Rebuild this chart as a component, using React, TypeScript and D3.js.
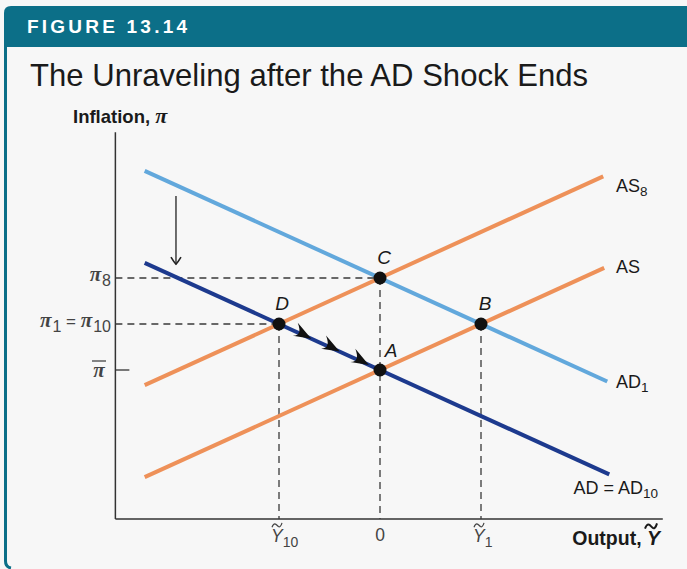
import React from "react";
import * as d3 from "d3";

// ---- data (economic units: output gap Ỹ, inflation π relative to π̄) ----
const curveIds = ["AD1", "AD10", "AS8", "AS"];
const ad1Pts: [number, number][] = [[-2.33, 4.33], [2.25, -0.25]];
const ad10Pts: [number, number][] = [[-2.33, 2.33], [2.27, -2.27]];
const as8Pts: [number, number][] = [[-2.33, -0.33], [2.21, 4.21]];
const asPts: [number, number][] = [[-2.33, -2.33], [2.22, 2.22]];
const pointNames = ["A", "B", "C", "D"];
const pointX = [0, 1, 0, -1];
const pointY = [0, 1, 2, 1];
const flowArrowX = [-0.68, -0.4, -0.11];
const xTickVals = [-1, 0, 1];
const xTickSubs = ["10", "", "1"];
const yTickVals = [2, 1, 0];
const xExtent = [-2.62, 2.8];
const yExtent = [-3.24, 5.17];
const shockArrow = { x: -2.02, from: 3.78, to: 2.3 };

const W = 687;
const H = 569;
const TEAL = "#0c6f88";
const FONT = "'Liberation Sans', Arial, Helvetica, sans-serif";
const SERIF = "'Liberation Serif', 'Times New Roman', serif";

function Tilde({ cx, cy, w, sw = 1.2 }: { cx: number; cy: number; w: number; sw?: number }) {
  const h = w * 0.22;
  return (
    <path
      d={`M${cx - w / 2},${cy + h} C${cx - w / 4},${cy - h * 2} ${cx},${cy + h * 0.3} ${cx + w / 8},${cy + h * 0.6} C${
        cx + w / 4
      },${cy + h * 1.2} ${cx + w * 0.4},${cy + h * 0.6} ${cx + w / 2},${cy - h}`}
      fill="none"
      stroke="currentColor"
      strokeWidth={sw}
    />
  );
}

export default function App() {
  const x = d3.scaleLinear().domain([-1, 1]).range([279, 481]);
  const y = d3.scaleLinear().domain([0, 1]).range([370, 324]);
  const line = d3
    .line<[number, number]>()
    .x((d) => x(d[0]))
    .y((d) => y(d[1]));

  const x0 = x(xExtent[0]);
  const x1 = x(xExtent[1]);
  const yb = y(yExtent[0]);
  const yt = y(yExtent[1]);

  const curves = [
    { id: curveIds[0], pts: ad1Pts, color: "#62a8dc" },
    { id: curveIds[1], pts: ad10Pts, color: "#1d3a8e" },
    { id: curveIds[2], pts: as8Pts, color: "#ee9159" },
    { id: curveIds[3], pts: asPts, color: "#ee9159" },
  ];

  const dash = "7,5";
  const dashColor = "#3a3a3a";

  const angle =
    (Math.atan2(y(ad10Pts[1][1]) - y(ad10Pts[0][1]), x(ad10Pts[1][0]) - x(ad10Pts[0][0])) * 180) /
    Math.PI;

  const pt = (name: string) => {
    const i = pointNames.indexOf(name);
    return [x(pointX[i]), y(pointY[i])];
  };
  const [Ax, Ay] = pt("A");
  const [Bx, By] = pt("B");
  const [Cx, Cy] = pt("C");
  const [Dx, Dy] = pt("D");

  const sub = { fontSize: 13.5 };
  const sx = x(shockArrow.x);
  const sy = y(shockArrow.to);

  return (
    <svg
      width={W}
      height={H}
      style={{ position: "absolute", left: 0, top: 0, display: "block" }}
      xmlns="http://www.w3.org/2000/svg"
    >
      <rect x={0} y={0} width={W} height={H} fill="#f7f7f7" />
      {/* header band */}
      <path d={`M4,47 L4,13 Q4,6 11,6 L${W},6 L${W},47 Z`} fill={TEAL} />
      <path d={`M5.5,47 L5.5,561 Q5.5,567 11,568`} fill="none" stroke={TEAL} strokeWidth={3} />
      <text
        x={27}
        y={33}
        fill="#ffffff"
        fontFamily={FONT}
        fontWeight="bold"
        fontSize={19}
        textLength={160}
        lengthAdjust="spacing"
      >
        FIGURE 13.14
      </text>
      <text x={30} y={86} fill="#1a1a1a" fontFamily={FONT} fontSize={30.5} textLength={558} lengthAdjust="spacingAndGlyphs">
        The Unraveling after the AD Shock Ends
      </text>

      {/* axes */}
      <line x1={x0} y1={yt} x2={x0} y2={yb} stroke="#333" strokeWidth={1.5} />
      <line x1={x0} y1={yb} x2={x1} y2={yb} stroke="#333" strokeWidth={1.5} />
      <text x={73} y={123} fontFamily={FONT} fontWeight="bold" fontSize={18.5} fill="#1a1a1a">
        Inflation,{" "}
        <tspan fontFamily={SERIF} fontStyle="italic" fontSize={22}>
          π
        </tspan>
      </text>
      <g color="#1a1a1a">
        <text x={660} y={545} textAnchor="end" fontFamily={FONT} fontWeight="bold" fontSize={19.5} fill="#1a1a1a">
          Output, <tspan fontStyle="italic">Y</tspan>
        </text>
        <Tilde cx={651} cy={526} w={12} sw={2} />
      </g>

      {/* pi-bar tick */}
      <line x1={x0} y1={y(0)} x2={x0 + 14} y2={y(0)} stroke="#333" strokeWidth={1.3} />

      {/* dashed guides */}
      <line x1={x0} y1={Cy} x2={Cx} y2={Cy} stroke={dashColor} strokeWidth={1.3} strokeDasharray={dash} />
      <line x1={x0} y1={Dy} x2={Dx} y2={Dy} stroke={dashColor} strokeWidth={1.3} strokeDasharray={dash} />
      {[Dx, Cx, Bx].map((px, i) => (
        <line
          key={i}
          x1={px}
          y1={[Dy, Cy, By][i]}
          x2={px}
          y2={yb}
          stroke={dashColor}
          strokeWidth={1.3}
          strokeDasharray={dash}
        />
      ))}

      {/* curves */}
      {curves.map((c) => (
        <path key={c.id} d={line(c.pts) || ""} fill="none" stroke={c.color} strokeWidth={4} />
      ))}

      {/* shock arrow */}
      <line x1={sx} y1={y(shockArrow.from)} x2={sx} y2={sy} stroke="#222" strokeWidth={1.3} />
      <path
        d={`M${sx - 5},${sy - 7} Q${sx - 2},${sy - 2} ${sx},${sy} Q${sx + 2},${sy - 2} ${sx + 5},${sy - 7}`}
        fill="none"
        stroke="#222"
        strokeWidth={1.6}
      />

      {/* flow arrowheads along AD10 */}
      {flowArrowX.map((v, i) => (
        <path
          key={i}
          transform={`translate(${x(v)},${y(-v)}) rotate(${angle})`}
          d="M0,0 L-19,-9 Q-13,-3 -14,0 Q-13,2 -18,5 Z"
          fill="#111"
        />
      ))}

      {/* equilibrium points */}
      {pointNames.map((n, i) => (
        <circle key={n} cx={x(pointX[i])} cy={y(pointY[i])} r={6.5} fill="#111" />
      ))}
      <g fontFamily={FONT} fontStyle="italic" fontSize={19} fill="#1a1a1a">
        <text x={Ax + 11} y={Ay - 13} textAnchor="middle">A</text>
        <text x={Bx + 4} y={By - 14} textAnchor="middle">B</text>
        <text x={Cx + 4} y={Cy - 14} textAnchor="middle">C</text>
        <text x={Dx + 3} y={Dy - 14} textAnchor="middle">D</text>
      </g>

      {/* curve labels */}
      <g fontFamily={FONT} fontSize={18} fill="#1a1a1a">
        <text x={616} y={192}>
          AS<tspan style={sub} dy={4}>8</tspan>
        </text>
        <text x={616} y={273}>AS</text>
        <text x={616} y={388}>
          AD<tspan style={sub} dy={4}>1</tspan>
        </text>
        <text x={658} y={494} textAnchor="end">
          AD = AD<tspan style={sub} dy={4}>10</tspan>
        </text>
      </g>

      {/* y tick labels */}
      <g fill="#444" fontSize={21}>
        <text x={111} y={y(yTickVals[0]) + 3} textAnchor="end" fontFamily={SERIF} fontStyle="italic" fontWeight="bold">
          π<tspan fontFamily={FONT} fontStyle="normal" fontWeight="normal" fontSize={16} dx={1} dy={5}>8</tspan>
        </text>
        <text x={111} y={y(yTickVals[1]) + 3} textAnchor="end" fontFamily={SERIF} fontStyle="italic" fontWeight="bold">
          π<tspan fontFamily={FONT} fontStyle="normal" fontWeight="normal" fontSize={16} dx={1} dy={5}>1</tspan>
          <tspan fontFamily={FONT} fontStyle="normal" fontWeight="normal" fontSize={17} dy={-5}> = </tspan>
          <tspan>π</tspan>
          <tspan fontFamily={FONT} fontStyle="normal" fontWeight="normal" fontSize={16} dx={1} dy={5}>10</tspan>
        </text>
        <text x={99} y={y(yTickVals[2]) + 7} textAnchor="middle" fontFamily={SERIF} fontStyle="italic" fontWeight="bold">
          π
        </text>
        <line x1={92} y1={y(yTickVals[2]) - 9} x2={106} y2={y(yTickVals[2]) - 9} stroke="#444" strokeWidth={1.3} />
      </g>

      {/* x tick labels */}
      <g fill="#444" color="#444" fontFamily={FONT} fontSize={17.5}>
        {xTickVals.map((v, i) => {
          const px = x(v);
          if (xTickSubs[i] === "")
            return (
              <text key={v} x={px} y={541} textAnchor="middle">
                0
              </text>
            );
          return (
            <g key={v}>
              <text x={px - 8} y={542} fontStyle="italic">
                Y<tspan fontStyle="normal" fontSize={14} dy={5}>{xTickSubs[i]}</tspan>
              </text>
              <Tilde cx={px - 2} cy={525} w={10} />
            </g>
          );
        })}
      </g>
    </svg>
  );
}
